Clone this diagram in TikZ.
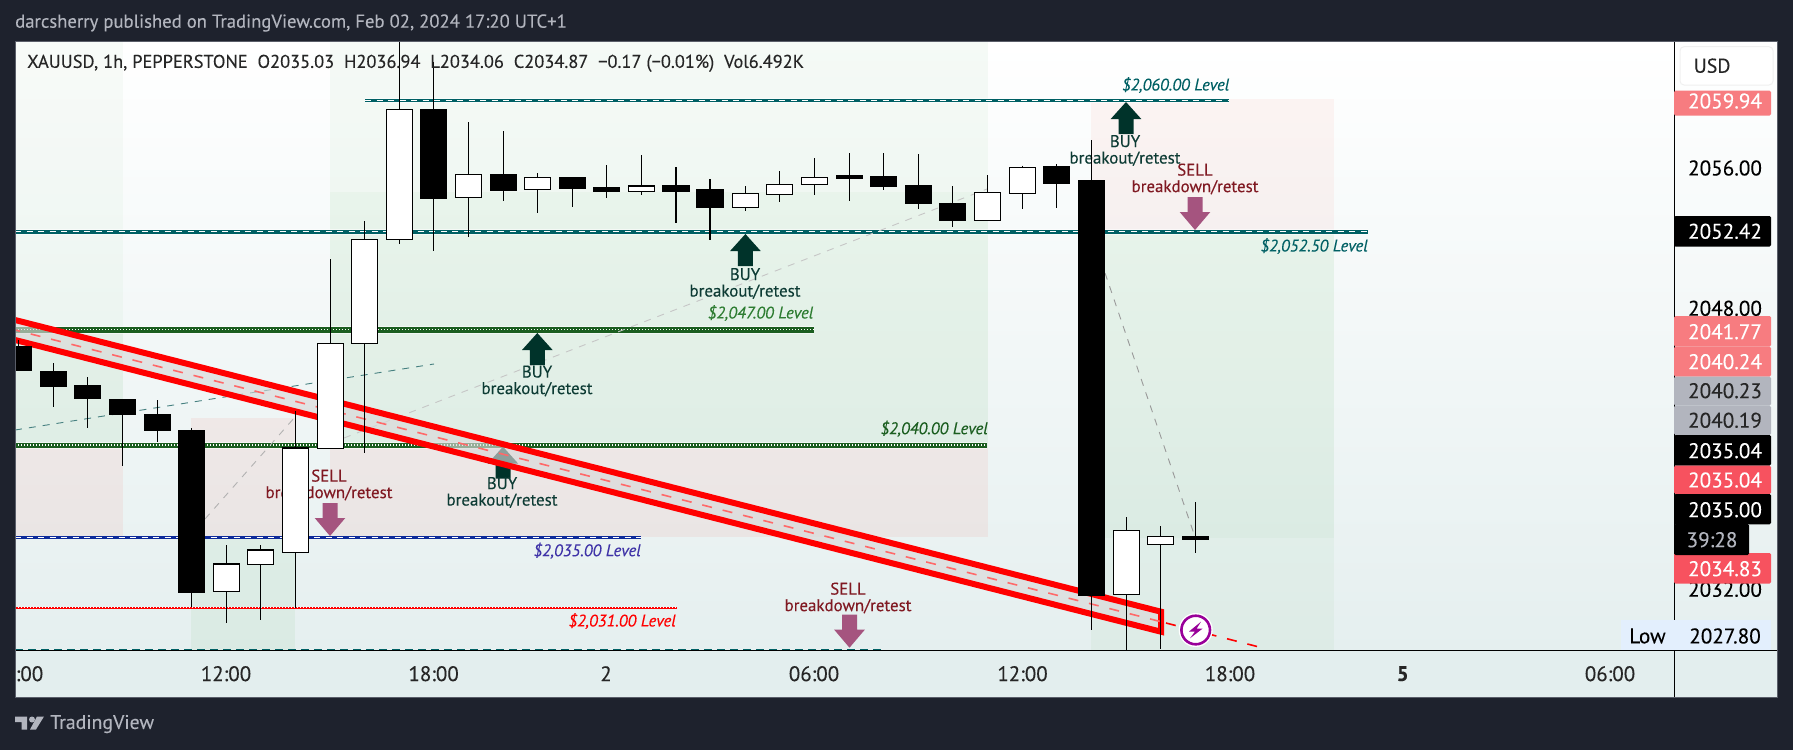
\documentclass[tikz,border=0pt]{standalone}
\usepackage{fontspec}
\setmainfont{PT Sans}[FakeBold=0.15]
\usetikzlibrary{calc}
\definecolor{frameink}{HTML}{1E222D}
\definecolor{frameedge}{HTML}{5A5E69}
\definecolor{frametext}{HTML}{B2B5BE}
\definecolor{chartlow}{HTML}{E3EEEE}
\definecolor{buyink}{HTML}{00332A}
\definecolor{buytext}{HTML}{0D3B34}
\definecolor{sellink}{HTML}{A5547F}
\definecolor{selltext}{HTML}{801922}
\definecolor{tealine}{HTML}{006064}
\definecolor{greenline}{HTML}{1B5E20}
\definecolor{greentext}{HTML}{2E7D32}
\definecolor{blueline}{HTML}{0D2A9A}
\definecolor{bluetext}{HTML}{3F33A8}
\definecolor{salmon}{HTML}{F77C80}
\definecolor{coral}{HTML}{F7525F}
\definecolor{tagblue}{HTML}{E3EFFD}
\definecolor{zonegreenink}{HTML}{4CAF50}
\definecolor{zonepinkink}{HTML}{F44336}
\tikzset{
	zonegreen/.style={fill=zonegreenink,fill opacity=0.09},%
	zonepink/.style={fill=zonepinkink,fill opacity=0.07},%
	halo/.style={white,line width=#1,opacity=0.55},%
	whitedash/.style={white,line width=1,dash pattern=on 6pt off 5.5pt},%
	whitedot/.style={white,line width=1.3,dash pattern=on 1.3pt off 1.7pt},%
	ghost/.style={line width=0.9,dash pattern=on 7pt off 7pt},%
	candleup/.style={fill=white},%
	candledown/.style={fill=black},%
	wick/.style={line width=1.2},%
	levelname/.style={font=\fontsize{16.8}{19}\selectfont\itshape,anchor=east,inner sep=0pt},%
	signal/.style={font=\fontsize{16.9}{17}\selectfont,anchor=center},%
	axisnum/.style={font=\fontsize{21.2}{23}\selectfont,anchor=center},%
	timenum/.style={font=\fontsize{21}{23}\selectfont,anchor=center,text=black!85},%
	buyarrow/.style={fill=buyink},%
	sellarrow/.style={fill=sellink},%
}
\def\axisx{1674}
\def\tagx{1771}
\def\numx{1725}
\def\arrowup#1#2{(#1-7.5,#2+32) -- (#1-7.5,#2+17) -- (#1-15.3,#2+17) -- (#1,#2) -- (#1+15.3,#2+17) -- (#1+7.5,#2+17) -- (#1+7.5,#2+32) -- cycle}
\def\arrowdown#1#2{(#1-7.5,#2-33) -- (#1-7.5,#2-18) -- (#1-15.3,#2-18) -- (#1,#2) -- (#1+15.3,#2-18) -- (#1+7.5,#2-18) -- (#1+7.5,#2-33) -- cycle}

\begin{document}
\begin{tikzpicture}[%
		x=1pt,y=-1pt,%
		];
		\useasboundingbox (0,0) rectangle (1793,750);
		\fill[frameink] (0,0) rectangle (1793,750);
		\shade[top color=white,bottom color=chartlow] (15,41) rectangle (1777.5,697.5);
		\node[anchor=west,inner sep=0pt,text=frametext,font=\fontsize{18.7}{20}\selectfont] (publishedline) at (15,23) {darcsherry published on TradingView.com, Feb 02, 2024 17:20 UTC+1};
		% session zones
		\fill[zonegreen,fill opacity=0.04] (15,41) rectangle (123,333);
		\fill[zonegreen] (15,333) rectangle (123,448);
		\fill[zonepink] (15,448) rectangle (123,537);
		\fill[zonegreen,fill opacity=0.05] (330,41) rectangle (988,192);
		\fill[zonegreen] (330,192) rectangle (988,448);
		\fill[zonepink] (330,448) rectangle (988,537);
		\fill[zonepink] (191,418) rectangle (295,537);
		\fill[zonegreen,fill opacity=0.07] (191,537) rectangle (295,650);
		\fill[zonepink,fill opacity=0.05] (1091,99) rectangle (1333.5,232);
		\fill[zonegreen] (1091,232) rectangle (1333.5,538);
		\fill[zonegreen,fill opacity=0.05] (1091,538) rectangle (1333.5,650);
		% levels
		\draw[halo=5] (365,100.3) -- (1229,100.3);
		\draw[tealine,line width=2.8] (365,100.3) -- (1229,100.3);
		\draw[whitedash] (365,100.3) -- (1229,100.3);
		\draw[halo=6] (15,231.7) -- (1368,231.7);
		\draw[tealine,line width=3.6] (15,231.7) -- (1368,231.7);
		\draw[whitedash] (15,231.7) -- (1368,231.7);
		\draw[halo=7.5] (15,330) -- (814,330);
		\draw[greenline,line width=6] (15,330) -- (814,330);
		\draw[whitedot] (15,329.6) -- (814,329.6);
		\draw[halo=7] (15,445.5) -- (987,445.5);
		\draw[greenline,line width=5.5] (15,445.5) -- (987,445.5);
		\draw[whitedot] (15,445) -- (987,445);
		\draw[blueline,line width=2.8] (15,537.3) -- (641,537.3);
		\draw[whitedash] (15,537.3) -- (641,537.3);
		\draw[red,line width=1.6] (15,608) -- (677,608);
		\draw[white,line width=0.7,dash pattern=on 1pt off 2pt] (15,607.4) -- (677,607.4);
		\draw[tealine,line width=1.6,dash pattern=on 8pt off 5pt] (15,649.5) -- (883,649.5);
		\node[levelname,text=tealine] (lvlsixty) at (1229.5,85) {\$2,060.00 Level};
		\node[levelname,text=tealine] (lvlfiftytwo) at (1368,246) {\$2,052.50 Level};
		\node[levelname,text=greentext] (lvlfortyseven) at (813.5,313) {\$2,047.00 Level};
		\node[levelname,text=greenline] (lvlforty) at (988,428.7) {\$2,040.00 Level};
		\node[levelname,text=bluetext] (lvlthirtyfive) at (641,550.7) {\$2,035.00 Level};
		\node[levelname,text=red] (lvlthirtyone) at (676,621) {\$2,031.00 Level};
		% ghost lines
		\draw[ghost,teal!45!gray] (15,430) -- (434,364);
		\draw[ghost,gray!60] (205,519) -- (295,417);
		\draw[ghost,gray!45] (344,438) -- (987,189);
		\draw[ghost,gray!80] (1105,273) -- (1194,534);
		% signals
		\fill[buyarrow] \arrowup{537.3}{333};
		\node[signal,text=buytext,align=center] (buyone) at (537,381) {BUY\\[-0.5pt]breakout/retest};
		\fill[buyarrow] \arrowup{745.4}{234};
		\node[signal,text=buytext,align=center] (buytwo) at (745,283.5) {BUY\\[-0.5pt]breakout/retest};
		\fill[buyarrow] \arrowup{1126}{102};
		\node[signal,text=buytext,align=center] (buythree) at (1125,150.5) {BUY\\[-0.5pt]breakout/retest};
		\fill[buyarrow] \arrowup{503}{446.7};
		\node[signal,text=buytext,align=center] (buyfour) at (502,492.5) {BUY\\[-0.5pt]breakout/retest};
		\fill[sellarrow] \arrowdown{330}{536};
		\node[signal,text=selltext,align=center] (sellone) at (329,485) {SELL\\[-0.5pt]breakdown/retest};
		\fill[sellarrow] \arrowdown{849.5}{647.7};
		\node[signal,text=selltext,align=center] (selltwo) at (848,598) {SELL\\[-0.5pt]breakdown/retest};
		\fill[sellarrow] \arrowdown{1195}{230};
		\node[signal,text=selltext,align=center] (sellthree) at (1195,179) {SELL\\[-0.5pt]breakdown/retest};
		% falling channel
		\begin{scope}
			\clip (15,41) rectangle (\axisx,650);
			\draw[red,line width=6,fill=gray!30,fill opacity=0.65,draw opacity=1] (-10,313.6) -- (1161,611.7) -- (1161,631.7) -- (-10,333.6) -- cycle;
			\draw[red!45!pink,line width=1.6,dash pattern=on 10pt off 11pt] (-10,323.6) -- (1161,621.7);
			\draw[red,line width=1.6,dash pattern=on 10pt off 11pt] (1166,623) -- (1261,647.5);
		\end{scope}
		\fill[white] (1195.7,630) circle (17);
		\draw[violet!80!magenta,line width=2.6] (1195.7,630) circle (14.3);
		\fill[violet!80!magenta] (1201,621.7) -- (1189,631.5) -- (1195,631.5) -- (1190,638.3) -- (1202.7,628.5) -- (1196.7,628.5) -- cycle;
		% candles
		\begin{scope}
			\clip (15,41) rectangle (\axisx,650);
			\foreach \cx/\hi/\bodytop/\bodybot/\lo/\kind in {%
				18.5/340/347/370.7/370.7/candledown,53.6/363/372/386.7/406.7/candledown,87.3/377/386/398.7/427.7/candledown,%
				122.5/400/400/414.7/465.7/candledown,157.3/400/415/430.7/441.7/candledown,191.4/428/431/592.7/607/candledown,%
				226.5/545/564/591.7/622.7/candleup,260.2/545/550/564.3/620/candleup,295.4/411/448/552.3/608.3/candleup,%
				330.3/259/343.3/448.3/448.3/candleup,364.3/221/239.3/343.3/452.7/candleup,399.5/41/109.3/239.3/244/candleup,%
				433.6/62/110/198/250.7/candledown,468.4/122/174.3/197.3/236.7/candleup,503.6/131/175/190/201/candledown,%
				537.3/173/177.3/189.7/212.7/candleup,572.5/178/178/188/206.7/candledown,606.5/165/188/191.7/197.7/candledown,%
				641.3/155/186/191.3/194.7/candleup,676/167/186/191.7/222.7/candledown,710/179/190/207.7/239.7/candledown,%
				745.4/186/193.3/207.3/210.7/candleup,779.5/171/184.3/194.3/201.7/candleup,814.3/158/177.3/184.3/194.7/candleup,%
				849.5/153/176/178.7/200.7/candledown,883.6/153/177/186.7/189.7/candledown,918.4/154/186/203.7/208.7/candledown,%
				952.5/186/204/220.7/226.7/candledown,987.3/175/192.3/220.3/220.3/candleup,1022.5/165.7/167.3/193.3/208.7/candleup,%
				1056.6/164/167/183.7/207.7/candledown,1091.4/140/181/595/629.7/candledown,1126.6/517/530.3/594.3/650/candleup,%
				1160.7/526/536.3/544.3/649/candleup,1195.5/502/536.3/539.7/552.7/candledown%
			}{%
				\draw[wick] (\cx,\hi) -- (\cx,\lo);
				\draw[line width=1.2,\kind] (\cx-13,\bodytop) rectangle (\cx+13,\bodybot);
			}
		\end{scope}
		\node[anchor=west,inner sep=0pt,text=black!85,font=\fontsize{18.4}{20}\selectfont] (legendline) at (27,63.3) {XAUUSD, 1h, PEPPERSTONE\ \ O2035.03\ \ H2036.94\ \ L2034.06\ \ C2034.87\ \ −0.17 (−0.01\%)\ \ Vol6.492K};
		% time axis
		\fill[chartlow] (15,650) rectangle (1777.5,697.5);
		\draw[black,line width=1] (15,650.3) -- (1777.5,650.3);
		\node[timenum] (hourzero) at (29.5,673.7) {:00};
		\node[timenum] (hourtwelve) at (226,673.7) {12:00};
		\node[timenum] (houreighteen) at (433.6,673.7) {18:00};
		\node[timenum] (daytwo) at (606,673.7) {2};
		\node[timenum] (hoursix) at (814,673.7) {06:00};
		\node[timenum] (hournoon) at (1022.5,673.7) {12:00};
		\node[timenum] (hourevening) at (1230,673.7) {18:00};
		\node[timenum,font=\fontsize{21}{23}\selectfont\bfseries] (dayfive) at (1402.7,673.7) {5};
		\node[timenum] (hourmorning) at (1610,673.7) {06:00};
		% price axis
		\draw[black,line width=1] (\axisx,41) -- (\axisx,697.5);
		\node[axisnum] (pricefiftysix) at (\numx,168) {2056.00};
		\node[axisnum] (priceeight) at (\numx,308.3) {2048.00};
		\node[axisnum] (pricethirtytwo) at (\numx,589.3) {2032.00};
		\foreach \tagname/\ya/\yb/\ytext/\tagfill/\tagtext/\price in {%
			tagsixty/90.7/115.7/101/salmon/white/2059.94,%
			taglast/216/246.7/231.3/black/white/2052.42,%
			tagfortyone/316/346.7/331.7/salmon/white/2041.77,%
			tagforty/346.7/376.7/361.7/salmon/white/2040.24,%
			taggreyone/376.7/405.7/390.7/frametext/black!85/2040.23,%
			taggreytwo/405.7/435/420.3/frametext/black!85/2040.19,%
			tagblack/435/465.7/450.7/black/white/2035.04,%
			tagcoral/465.7/494/480/coral/white/2035.04,%
			tagclose/494/524.3/509.7/black/white/2035.00,%
			taglow/553/583.7/568.7/coral/white/2034.83%
		}{%
			\fill[\tagfill,rounded corners=1.5pt] (\axisx,\ya) rectangle (\tagx,\yb);
			\node[axisnum,text=\tagtext] (\tagname) at (\numx,\ytext) {\price};
		}
		\fill[black,rounded corners=1.5pt] (\axisx,524) rectangle (1749,555);
		\node[axisnum,text=frametext] (tagclock) at (1712,539.7) {39:28};
		\fill[tagblue] (1621,620) rectangle (1771,650);
		\node[axisnum,anchor=west,inner sep=0pt] (lowword) at (1629,636) {Low};
		\node[axisnum] (lowprice) at (\numx,636) {2027.80};
		\draw[rounded corners=4pt,draw=black!6,fill=white,line width=1] (1680,46.7) rectangle (1773,85);
		\node[axisnum,anchor=west,inner sep=0pt,text=black!85,font=\fontsize{20}{22}\selectfont] (unitname) at (1693.5,65.7) {USD};
		\draw[frameedge,line width=1] (15,41) rectangle (1777.5,697.5);
		% footer mark
		\fill[frametext] (15,716.5) -- (27,716.5) -- (27,729.5) -- (21.5,729.5) -- (21.5,722) -- (15,722) -- cycle;
		\fill[frametext] (32,719.5) circle (3);
		\fill[frametext] (37,716.5) -- (44,716.5) -- (36,729.5) -- (30,729.5) -- cycle;
		\node[anchor=west,inner sep=0pt,text=frametext,font=\fontsize{19.8}{21}\selectfont] (footerbrand) at (50,724) {TradingView};
	\end{tikzpicture}
\end{document}
